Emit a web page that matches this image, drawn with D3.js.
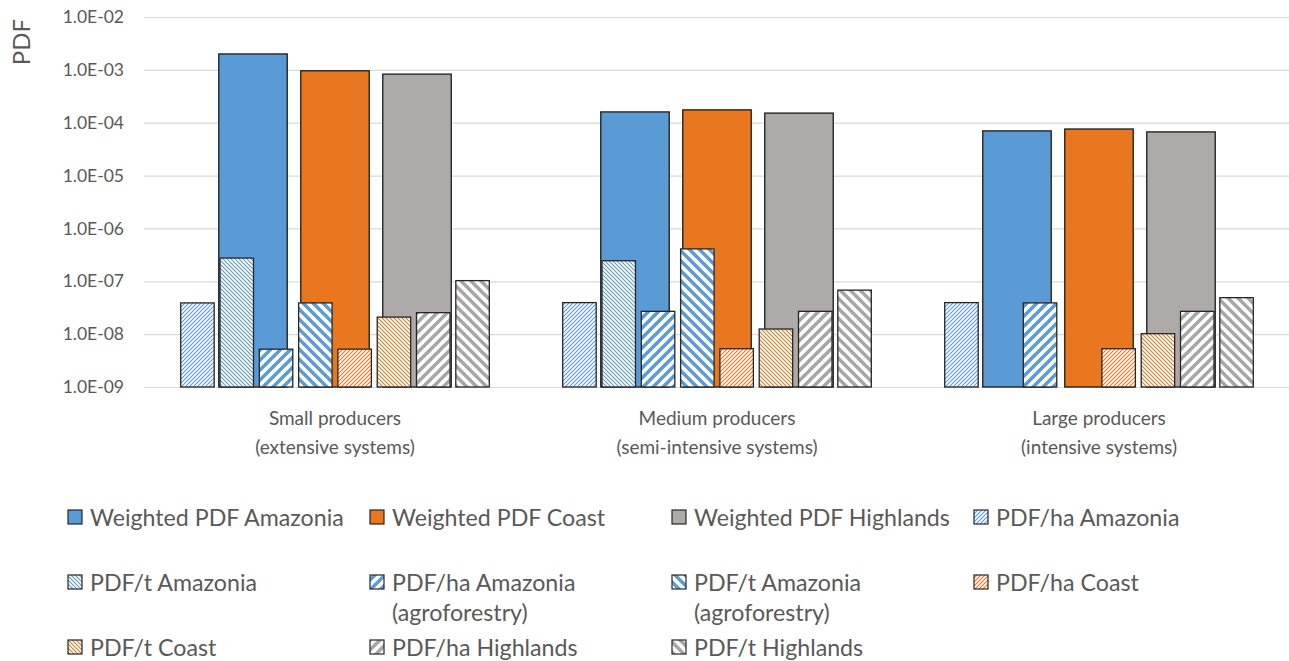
<!DOCTYPE html>
<html>
<head>
<meta charset="utf-8">
<script src="https://cdn.jsdelivr.net/npm/d3@7"></script>
<style>
  html, body { margin: 0; padding: 0; background: #fff; }
  svg { display: block; }
  text { font-family: Lato, "Open Sans", sans-serif; fill: #595959; }
</style>
</head>
<body>
<svg id="chart" width="1289" height="661"></svg>
<script>
// ---------------- data ----------------
const categories = [
  ["Small producers", "(extensive systems)"],
  ["Medium producers", "(semi-intensive systems)"],
  ["Large producers", "(intensive systems)"]
];
const weightedNames = ["Weighted PDF Amazonia", "Weighted PDF Coast", "Weighted PDF Highlands"];
const weightedAmazonia  = [2.0e-3, 1.6e-4, 7.0e-5];
const weightedCoast     = [9.6e-4, 1.75e-4, 7.6e-5];
const weightedHighlands = [8.3e-4, 1.52e-4, 6.7e-5];

const hatchedNames = [
  "PDF/ha Amazonia", "PDF/t Amazonia",
  "PDF/ha Amazonia (agroforestry)", "PDF/t Amazonia (agroforestry)",
  "PDF/ha Coast", "PDF/t Coast",
  "PDF/ha Highlands", "PDF/t Highlands"
];
const haAmazonia     = [3.9e-8, 3.95e-8, 3.95e-8];
const tAmazonia      = [2.75e-7, 2.45e-7, null];
const haAmazoniaAgro = [5.2e-9, 2.7e-8, 3.9e-8];
const tAmazoniaAgro  = [3.9e-8, 4.1e-7, null];
const haCoast        = [5.2e-9, 5.3e-9, 5.3e-9];
const tCoast         = [2.1e-8, 1.25e-8, 1.02e-8];
const haHighlands    = [2.55e-8, 2.7e-8, 2.7e-8];
const tHighlands     = [1.03e-7, 6.8e-8, 4.9e-8];

const tickValues = [1e-9, 1e-8, 1e-7, 1e-6, 1e-5, 1e-4, 1e-3, 1e-2];
const tickLabels = ["1.0E-09", "1.0E-08", "1.0E-07", "1.0E-06", "1.0E-05", "1.0E-04", "1.0E-03", "1.0E-02"];

const legendOrder = [
  "Weighted PDF Amazonia", "Weighted PDF Coast", "Weighted PDF Highlands", "PDF/ha Amazonia",
  "PDF/t Amazonia", "PDF/ha Amazonia (agroforestry)", "PDF/t Amazonia (agroforestry)", "PDF/ha Coast",
  "PDF/t Coast", "PDF/ha Highlands", "PDF/t Highlands"
];

// ---------------- styles ----------------
const BLUE = "#5B9BD5", ORANGE = "#E9771F", GRAY = "#AEAAAA", HGRAY = "#A6A6A6";
const weightedValues = [weightedAmazonia, weightedCoast, weightedHighlands];
const weightedColors = [BLUE, ORANGE, GRAY];
const hatchedValues = [haAmazonia, tAmazonia, haAmazoniaAgro, tAmazoniaAgro, haCoast, tCoast, haHighlands, tHighlands];
const hatchedPatterns = [
  {id: "p0", color: BLUE, dir: "up", wide: false},
  {id: "p1", color: BLUE, dir: "down", wide: false},
  {id: "p2", color: BLUE, dir: "up", wide: true},
  {id: "p3", color: BLUE, dir: "down", wide: true},
  {id: "p4", color: ORANGE, dir: "up", wide: false},
  {id: "p5", color: ORANGE, dir: "down", wide: false},
  {id: "p6", color: HGRAY, dir: "up", wide: true},
  {id: "p7", color: HGRAY, dir: "down", wide: true}
];

const svg = d3.select("#chart");
const defs = svg.append("defs");
hatchedPatterns.forEach(p => {
  const s = p.wide ? 10 : 4;
  const sw = p.wide ? 3.4 : 1.1;
  const pat = defs.append("pattern").attr("id", p.id)
    .attr("patternUnits", "userSpaceOnUse").attr("width", s).attr("height", s);
  pat.append("rect").attr("width", s).attr("height", s).attr("fill", "#fff");
  const h = s / 2;
  const d = p.dir === "up"
    ? `M${-h},${h} L${h},${-h} M0,${s} L${s},0 M${s - h},${s + h} L${s + h},${s - h}`
    : `M${-h},${h} L${h},${s + h} M0,0 L${s},${s} M${s - h},${-h} L${s + h},${h}`;
  pat.append("path").attr("d", d).attr("stroke", p.color).attr("stroke-width", sw).attr("fill", "none");
});

// ---------------- scales ----------------
const x = d3.scaleBand().domain(d3.range(categories.length)).range([144, 1290]).padding(0);
const y = d3.scaleLog().domain([1e-9, 1e-2]).range([387, 17]);
const xW = d3.scaleBand().domain(d3.range(3)).range([-123, 123]).paddingInner(0.165).paddingOuter(0.0825);
const xH = d3.scaleBand().domain(d3.range(8)).range([-157.2, 157.2]).paddingInner(0.148).paddingOuter(0.074);

// ---------------- grid + axis ----------------
const yAxis = d3.axisLeft(y).tickValues(tickValues)
  .tickFormat((d, i) => tickLabels[i]).tickSize(-(1289 - 144)).tickPadding(20);
const gy = svg.append("g").attr("transform", "translate(144,0)").call(yAxis);
gy.select(".domain").remove();
gy.selectAll(".tick line").attr("stroke", "#D9D9D9").attr("stroke-width", 1.2);
gy.selectAll(".tick text").attr("font-size", 17.5).attr("fill", "#595959")
  .style("font-family", "Lato, sans-serif");

svg.append("text").attr("transform", "translate(20,42) rotate(-90)")
  .attr("text-anchor", "middle").attr("dominant-baseline", "central")
  .attr("font-size", 24).text("PDF");

// ---------------- bars ----------------
const base = y(1e-9);
const gW = svg.append("g");
weightedValues.forEach((vals, si) => {
  gW.selectAll(null).data(vals.map((v, ci) => ({v, ci})).filter(d => d.v != null)).enter()
    .append("rect")
    .attr("x", d => x(d.ci) + x.bandwidth() / 2 + xW(si))
    .attr("width", xW.bandwidth())
    .attr("y", d => y(d.v))
    .attr("height", d => base - y(d.v))
    .attr("fill", weightedColors[si])
    .attr("stroke", "#1a1a1a").attr("stroke-width", 1.3);
});

const gH = svg.append("g");
hatchedValues.forEach((vals, si) => {
  gH.selectAll(null).data(vals.map((v, ci) => ({v, ci})).filter(d => d.v != null)).enter()
    .append("rect")
    .attr("x", d => x(d.ci) + x.bandwidth() / 2 + xH(si))
    .attr("width", xH.bandwidth())
    .attr("y", d => y(d.v))
    .attr("height", d => base - y(d.v))
    .attr("fill", `url(#${hatchedPatterns[si].id})`)
    .attr("stroke", "#262626").attr("stroke-width", 1.3);
});

// ---------------- category labels ----------------
categories.forEach((lines, ci) => {
  lines.forEach((t, li) => {
    svg.append("text")
      .attr("x", x(ci) + x.bandwidth() / 2)
      .attr("y", 417 + li * 29)
      .attr("text-anchor", "middle").attr("dominant-baseline", "central")
      .attr("font-size", 19).text(t);
  });
});

// ---------------- legend ----------------
const legendCols = [68, 370, 672, 974];
const legendRows = [517, 582, 647];
legendOrder.forEach((name, i) => {
  const col = i % 4, row = Math.floor(i / 4);
  const lx = legendCols[col], ly = legendRows[row];
  const wi = weightedNames.indexOf(name);
  const hi = hatchedNames.indexOf(name);
  const fill = wi >= 0 ? weightedColors[wi] : `url(#${hatchedPatterns[hi].id})`;
  svg.append("rect").attr("x", lx).attr("y", ly - 7).attr("width", 14).attr("height", 14)
    .attr("fill", fill).attr("stroke", "#262626").attr("stroke-width", 1.2);
  const m = name.match(/^(.*) (\(agroforestry\))$/);
  const lines = m ? [m[1], m[2]] : [name];
  lines.forEach((t, li) => {
    svg.append("text").attr("x", lx + 22).attr("y", ly + li * 30)
      .attr("dominant-baseline", "central").attr("font-size", 23.2).text(t);
  });
});
</script>
</body>
</html>
